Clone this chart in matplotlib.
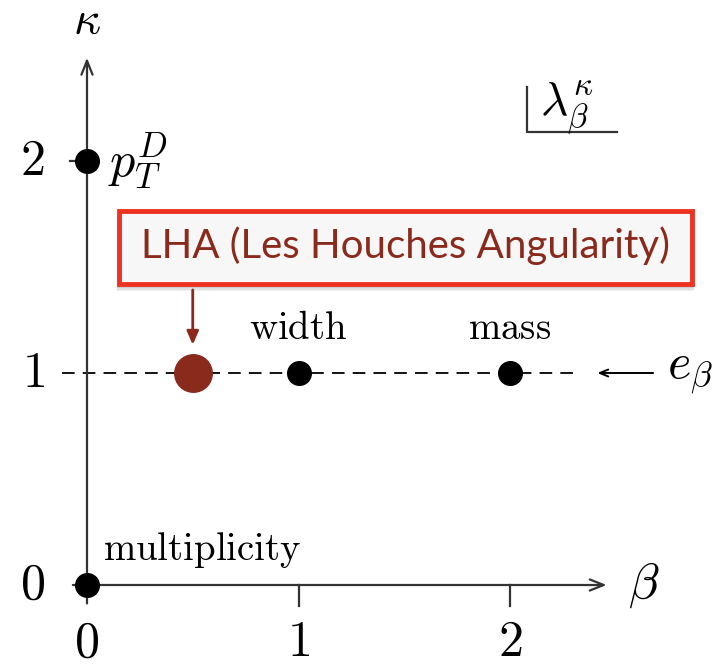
import matplotlib
matplotlib.use("Agg")
import matplotlib.pyplot as plt
from matplotlib.patches import FancyBboxPatch
import matplotlib.patheffects as pe

plt.rcParams['mathtext.fontset'] = 'cm'

# data
point_beta = [0, 0, 1, 2]
point_kappa = [0, 2, 1, 1]
point_names = ["multiplicity", r"p_T^D", "width", "mass"]
lha_beta = 0.5
lha_kappa = 1
lha_label = "LHA (Les Houches Angularity)"
ticks = [0, 1, 2]
tick_labels = ["0", "1", "2"]

fig = plt.figure(figsize=(7.2, 6.68), dpi=100)
ax = fig.add_axes([0, 0, 1, 1])
sx, sy = 211.5, 212.0
x0px, y0px = 87, 585
ax.set_xlim(-x0px / sx, (720 - x0px) / sx)
ax.set_ylim(-(668 - y0px) / sy, y0px / sy)
ax.axis('off')

axc = '#333333'
lw = 1.6
# axes with arrows
ax.annotate('', xy=(2.47, 0), xytext=(-0.08, 0),
            arrowprops=dict(arrowstyle='->,head_length=1.0,head_width=0.4', lw=lw, color=axc))
ax.annotate('', xy=(0, 2.50), xytext=(0, -0.1),
            arrowprops=dict(arrowstyle='->,head_length=1.0,head_width=0.4', lw=lw, color=axc))
# ticks
for t in ticks[1:]:
    ax.plot([t, t], [0, -0.1], color=axc, lw=lw)
ax.plot([-0.08, 0], [2, 2], color=axc, lw=lw)

# dashed line kappa=1
ax.plot([-0.12, 2.32], [1, 1], color='black', lw=1.3, ls=(0, (7, 4.5)))

# tick labels
for t, lab in zip(ticks, tick_labels):
    ax.text(t, -0.27, '$' + lab + '$', ha='center', va='center', fontsize=36)
    ax.text(-0.2, t, '$' + lab + '$', ha='right', va='center', fontsize=36)

ax.text(0, 2.66, r'$\kappa$', ha='center', va='center', fontsize=34)
ax.text(2.56, 0.0, r'$\beta$', ha='left', va='center', fontsize=36)

# points
ax.plot(point_beta, point_kappa, 'o', color='black', ms=17, zorder=5)
ax.plot([lha_beta], [lha_kappa], 'o', color='#8a2a1c', ms=27, zorder=6)

# point labels
ax.text(0.075, 0.12, r'$\mathrm{multiplicity}$', ha='left', va='baseline', fontsize=28)
ax.text(0.1, 2.0, r'$p_T^D$', ha='left', va='center', fontsize=36)
ax.text(1, 1.16, r'$\mathrm{width}$', ha='center', va='baseline', fontsize=28)
ax.text(2, 1.16, r'$\mathrm{mass}$', ha='center', va='baseline', fontsize=28)

# e_beta arrow
ax.annotate('', xy=(2.40, 1), xytext=(2.69, 1),
            arrowprops=dict(arrowstyle='->,head_length=0.6,head_width=0.25', lw=1.4, color='black'))
ax.text(2.74, 1.0, r'$e_\beta$', ha='left', va='center', fontsize=36)

# lambda box
ax.plot([2.08, 2.08, 2.505], [2.35, 2.137, 2.137], color=axc, lw=lw)
ax.text(2.14, 2.25, r'$\lambda_\beta^\kappa$', ha='left', va='center', fontsize=34)

# LHA box with soft shadow
for i, (dy, a) in enumerate([(-0.035, 0.08), (-0.028, 0.10), (-0.02, 0.12)]):
    sh = FancyBboxPatch((0.15 - 0.01, 1.42 + dy), 2.71 + 0.02, 0.345, boxstyle='square,pad=0',
                        fc='#555555', ec='none', alpha=a, zorder=2)
    ax.add_patch(sh)
box = FancyBboxPatch((0.15, 1.42), 2.71, 0.345, boxstyle='square,pad=0',
                     fc='#f7f7f7', ec='#ee3322', lw=3.5, zorder=3)
ax.add_patch(box)
ax.text(1.505, 1.60, lha_label, ha='center', va='center', fontsize=29,
        family='Lato', color='#8a2a1c', zorder=4)
ax.annotate('', xy=(lha_beta, 1.12), xytext=(lha_beta, 1.405),
            arrowprops=dict(arrowstyle='-|>,head_length=0.8,head_width=0.35', lw=2, color='#8a2a1c'),
            zorder=4)

fig.savefig('out.png', dpi=100)
